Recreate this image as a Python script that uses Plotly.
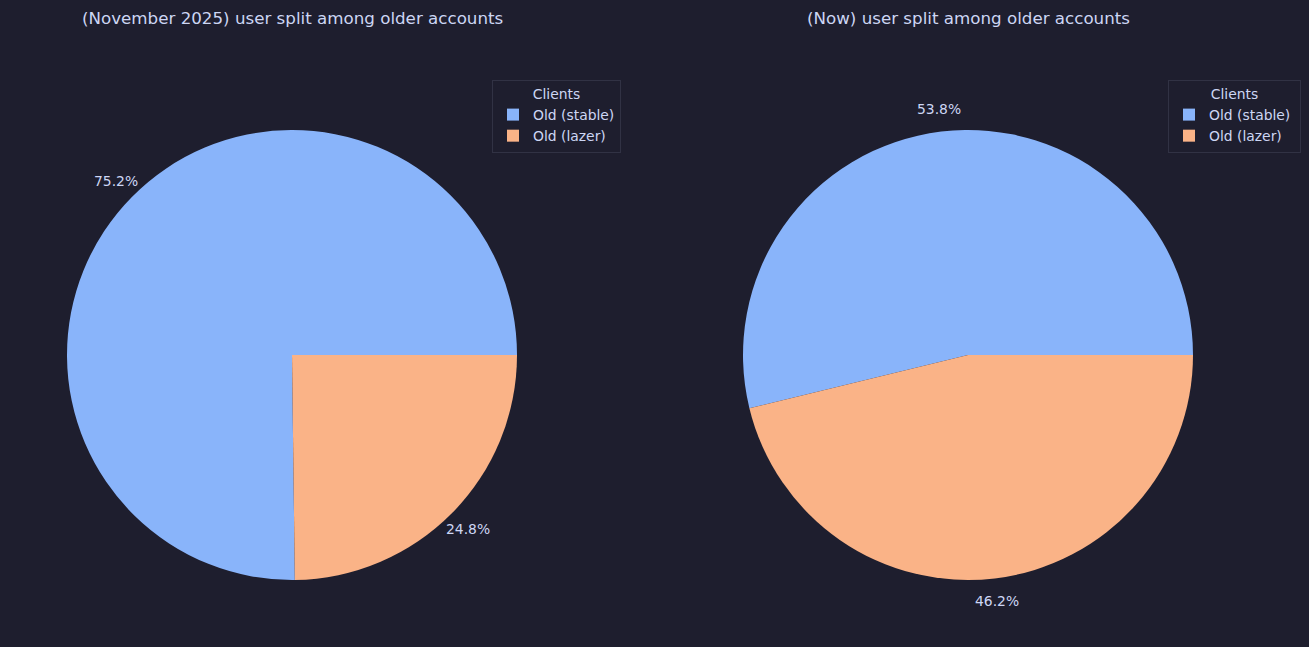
import math
import plotly.graph_objects as go

labels = ["Old (stable)", "Old (lazer)"]
nov_values = [75.2, 24.8]
now_values = [53.8, 46.2]
titles = ["(November 2025) user split among older accounts", "(Now) user split among older accounts"]
colors = ["#89b4fa", "#fab387"]

BG = "#1e1e2e"
FG = "#cdd6f4"
W, H = 1309, 647
FS = 13.9
CY, R = 355, 225
PCT_DIST = 1.1

def dom(cx, cy, r):
    return dict(x=[(cx - r) / W, (cx + r) / W], y=[1 - (cy + r) / H, 1 - (cy - r) / H])

def start_rotation(values):
    # matplotlib-style: first wedge starts at 3 o'clock and runs counterclockwise
    return 90 - 360 * values[0] / sum(values)

def make_pie(values, cx, legend, suffix):
    return go.Pie(
        labels=[l + suffix for l in labels], values=values, sort=False, direction="counterclockwise",
        rotation=start_rotation(values),
        marker=dict(colors=colors, line=dict(width=0)),
        textinfo="none",
        domain=dom(cx, CY, R), legend=legend, automargin=False,
        hoverinfo="label+percent",
    )

def pct_annotations(values, cx):
    anns = []
    total = sum(values)
    a0 = 0.0
    for v in values:
        frac = v / total
        mid = math.radians((a0 + frac / 2) * 360)
        a0 += frac
        x = cx + PCT_DIST * R * math.cos(mid)
        y = CY - PCT_DIST * R * math.sin(mid)
        anns.append(dict(text=f"{frac * 100:.1f}%", x=x / W, y=1 - y / H, xref="paper", yref="paper",
                         showarrow=False, xanchor="center", yanchor="middle",
                         font=dict(size=FS, color=FG, family="DejaVu Sans")))
    return anns

fig = go.Figure()
fig.add_trace(make_pie(nov_values, 292, "legend", ""))
fig.add_trace(make_pie(now_values, 968, "legend2", " "))

legend_style = dict(
    bgcolor=BG, bordercolor="#313244", borderwidth=1,
    font=dict(color=FG, size=FS, family="DejaVu Sans"),
    title=dict(text="Clients", side="top center", font=dict(color=FG, size=FS, family="DejaVu Sans")),
    xanchor="left", yanchor="top",
)
title_anns = [
    dict(text=titles[0], x=292 / W, y=1 - 18 / H, xref="paper", yref="paper",
         showarrow=False, font=dict(size=16.7, color=FG, family="DejaVu Sans"), xanchor="center", yanchor="middle"),
    dict(text=titles[1], x=968 / W, y=1 - 18 / H, xref="paper", yref="paper",
         showarrow=False, font=dict(size=16.7, color=FG, family="DejaVu Sans"), xanchor="center", yanchor="middle"),
]
fig.update_layout(
    width=W, height=H,
    paper_bgcolor=BG, plot_bgcolor=BG,
    margin=dict(l=0, r=0, t=0, b=0),
    font=dict(family="DejaVu Sans", color=FG),
    legend=dict(x=492 / W, y=1 - 80 / H, **legend_style),
    legend2=dict(x=1168 / W, y=1 - 80 / H, **legend_style),
    annotations=title_anns + pct_annotations(nov_values, 292) + pct_annotations(now_values, 968),
)
fig.write_html("out.html", config={"displayModeBar": False},
               post_script="document.body.style.margin='0';document.body.style.background='#1e1e2e';")
